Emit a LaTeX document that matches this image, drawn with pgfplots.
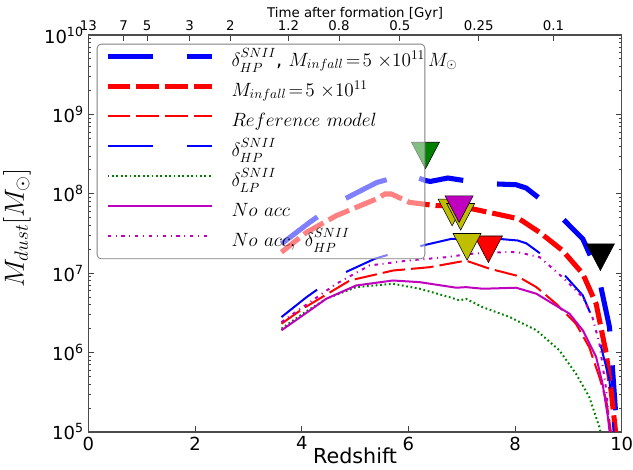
\documentclass[border=0pt]{standalone}
\usepackage{fontspec}
\setmainfont{DejaVu Sans}
\usepackage{pgfplots}
\pgfplotsset{compat=1.18}
\definecolor{mplgreen}{rgb}{0,0.5,0}
\definecolor{mplmag}{rgb}{0.75,0,0.75}
\definecolor{mplolive}{rgb}{0.75,0.75,0}
\pgfdeclareplotmark{tridown}{%
  \pgfpathmoveto{\pgfqpoint{-\pgfplotmarksize}{0.95\pgfplotmarksize}}%
  \pgfpathlineto{\pgfqpoint{\pgfplotmarksize}{0.95\pgfplotmarksize}}%
  \pgfpathlineto{\pgfqpoint{0pt}{-0.95\pgfplotmarksize}}%
  \pgfpathclose
  \pgfusepathqfillstroke}
\tikzset{
  thickblue/.style={blue, line width=3.8pt, dash pattern=on 33.75pt off 25.5pt},
  thinblue/.style={blue, line width=1.5pt, dash pattern=on 33.75pt off 25.5pt},
  thickred/.style={red, line width=3.8pt, dash pattern=on 17pt off 4.5pt},
  thinred/.style={red, line width=1.5pt, dash pattern=on 17pt off 4.5pt},
  greendot/.style={mplgreen, line width=1.5pt, dash pattern=on 1.3pt off 2pt},
  magsolid/.style={mplmag, line width=1.5pt},
  magdashdot/.style={mplmag, line width=1.5pt, dash pattern=on 2.5pt off 3.5pt on 0.8pt off 3.5pt},
}
\pgfplotsset{
  tri/.style={mark=tridown, mark size=10.5pt, mark options={solid, draw=black, line width=0.4pt, fill=#1}, only marks, forget plot}
}
\newcommand{\dsn}[1]{\delta^{\raisebox{1.5pt}{$\scriptstyle SNII$}}_{\raisebox{-1.5pt}{$\scriptstyle #1$}}}
\begin{document}
\begin{tikzpicture}
\begin{axis}[
  at={(0,0)}, anchor=south west,
  scale only axis, width=400pt, height=297.75pt,
  xmin=0, xmax=10, ymode=log, ymin=1e5, ymax=1e10,
  xtick={0,2,4,6,8,10}, xticklabels={0,2,4,6,8,10}, xtick pos=left,
  ytick={1e5,1e6,1e7,1e8,1e9,1e10},
  yticklabels={10\textsuperscript{5},10\textsuperscript{6},10\textsuperscript{7},10\textsuperscript{8},10\textsuperscript{9},10\textsuperscript{10}},
  minor ytick={2e5,3e5,4e5,5e5,6e5,7e5,8e5,9e5,2e6,3e6,4e6,5e6,6e6,7e6,8e6,9e6,2e7,3e7,4e7,5e7,6e7,7e7,8e7,9e7,2e8,3e8,4e8,5e8,6e8,7e8,8e8,9e8,2e9,3e9,4e9,5e9,6e9,7e9,8e9,9e9},
  ytick pos=both, tick align=inside,
  major tick length=4.5pt, minor tick length=2.3pt,
  tick style={black!75, line width=0.6pt},
  axis line style={black!70, line width=0.8pt},
  ticklabel style={font=\fontsize{13.5}{16}\selectfont},
  xlabel={Redshift},
  xlabel style={at={(axis description cs:0.5,0)}, anchor=north, yshift=-12pt, inner sep=0pt, font=\fontsize{15.5}{18}\selectfont},
  legend cell align=left,
  legend image code/.code={\draw[#1] (0pt,4pt) -- (78pt,4pt); \path (91pt,4pt);},
  legend style={
    at={(0.0156,0.978)}, anchor=north west,
    fill=white, fill opacity=0.5, draw opacity=1, text opacity=1,
    draw=black!50, line width=0.6pt, rounded corners=3pt,
    font=\fontsize{14.5}{17}\selectfont,
    inner xsep=6pt, inner ysep=4.5pt,
    row sep=5.5pt,
    nodes={inner sep=0pt, text height=12pt, text depth=5pt, text width=139pt, align=left},
  },
]
\addplot[thickblue] coordinates {(3.62,2.34e7) (4.15,4.38e7) (4.68,7.80e7) (5.41,1.39e8) (5.97,1.77e8) (6.32,1.47e8) (6.41,1.43e8) (6.74,1.58e8) (7.40,1.35e8) (8.02,1.30e8) (8.21,1.18e8) (8.71,6.44e7) (9.27,2.70e7) (9.55,1.03e7) (9.77,2.10e6) (9.86,3.07e5) (9.92,8e4)};
\addlegendentry{\mbox{$\dsn{HP}$, $M_{infall}\!=\!5\;{\times}10^{11}\,M_{\odot}$}}
\addplot[thickred] coordinates {(3.62,1.84e7) (4.09,3.27e7) (4.65,5.31e7) (5.40,8.61e7) (5.56,9.93e7) (5.68,9.93e7) (6.02,7.80e7) (6.52,7.08e7) (6.77,7.08e7) (7.21,6.44e7) (7.65,5.57e7) (8.08,4.82e7) (8.46,3.27e7) (8.89,1.93e7) (9.27,9.82e6) (9.52,4.12e6) (9.71,9.70e5) (9.81,2.93e5) (9.90,8e4)};
\addlegendentry{\mbox{$M_{infall}\!=\!5\;{\times}10^{11}$}}
\addplot[thinred] coordinates {(3.62,2.31e6) (4.02,3.57e6) (4.90,8.09e6) (5.71,1.08e7) (6.40,1.19e7) (7.08,1.44e7) (7.52,1.14e7) (8.02,9.35e6) (8.40,6.67e6) (8.77,4.12e6) (9.14,2.31e6) (9.39,1.17e6) (9.58,4.93e5) (9.71,2.52e5) (9.82,8e4)};
\addlegendentry{\mbox{$Reference\ model$}}
\addplot[thinblue] coordinates {(3.62,2.80e6) (4.09,4.99e6) (4.62,8.91e6) (5.37,1.52e7) (5.99,2.02e7) (6.80,2.70e7) (7.71,2.70e7) (8.05,2.58e7) (8.21,2.38e7) (8.74,1.31e7) (9.27,5.25e6) (9.52,2.10e6) (9.77,4.49e5) (9.86,8e4)};
\addlegendentry{\mbox{$\dsn{HP}$}}
\addplot[greendot] coordinates {(3.62,2.00e6) (4.02,3.09e6) (4.46,4.76e6) (5.02,6.67e6) (5.71,7.36e6) (6.21,6.37e6) (6.77,4.99e6) (6.96,4.54e6) (7.08,4.76e6) (7.39,3.74e6) (7.90,2.80e6) (8.40,1.91e6) (8.83,1.07e6) (9.14,5.45e5) (9.39,2.77e5) (9.58,1.16e5) (9.63,8e4)};
\addlegendentry{\mbox{$\dsn{LP}$}}
\addplot[magsolid] coordinates {(3.62,1.91e6) (4.02,2.94e6) (4.46,4.76e6) (5.02,7.00e6) (5.71,8.09e6) (6.21,7.71e6) (6.90,6.56e6) (7.08,6.67e6) (7.40,6.37e6) (8.02,6.56e6) (8.40,5.51e6) (8.71,4.12e6) (9.02,3.09e6) (9.27,1.91e6) (9.52,8.81e5) (9.64,4.07e5) (9.74,1.55e5) (9.79,8e4)};
\addlegendentry{\mbox{$No\ acc$}}
\addplot[magdashdot] coordinates {(3.62,2.42e6) (4.02,3.74e6) (4.65,7.36e6) (5.27,1.25e7) (6.02,1.45e7) (6.71,1.59e7) (7.15,1.75e7) (7.77,1.84e7) (8.05,1.84e7) (8.46,1.59e7) (8.89,8.91e6) (9.27,4.99e6) (9.45,2.80e6) (9.58,1.31e6) (9.71,3.37e5) (9.77,1.06e5) (9.80,8e4)};
\addlegendentry{\mbox{$No\ acc,\ \dsn{HP}$}}
% markers
\addplot[tri=mplgreen] coordinates {(6.32,3.03e8)};
\addplot[tri=mplolive] coordinates {(6.82,5.81e7)};
\addplot[tri=mplolive] coordinates {(6.98,5.13e7)};
\addplot[tri=mplmag] coordinates {(6.95,6.40e7)};
\addplot[tri=red] coordinates {(7.50,2.00e7)};
\addplot[tri=mplolive] coordinates {(7.10,2.15e7)};
\addplot[tri=black] coordinates {(9.60,1.59e7)};
\end{axis}
\begin{axis}[
  at={(0,0)}, anchor=south west,
  scale only axis, width=400pt, height=297.75pt,
  xmin=0, xmax=10, ymin=0, ymax=1,
  axis x line*=top, axis y line=none,
  tick align=inside, major tick length=4.5pt,
  tick style={black!75, line width=0.6pt},
  axis line style={black!70, line width=0.8pt},
  xtick={0,0.66,1.10,1.90,2.66,3.75,4.70,5.84,7.32,8.72},
  xticklabels={13,7,5,3,2,1.2,0.8,0.5,0.25,0.1},
  ticklabel style={font=\fontsize{10}{12}\selectfont},
  xlabel={Time after formation [Gyr]},
  xlabel style={at={(axis description cs:0.5,1)}, anchor=south, yshift=11pt, inner sep=0pt, font=\fontsize{10}{12}\selectfont},
]
\end{axis}
\node[rotate=90, anchor=center, inner sep=0pt, font=\fontsize{19.5}{23}\selectfont] at (-53.6pt,153pt) {$M_{dust}[M_{\odot}]$};
\pgfresetboundingbox
\path[use as bounding box] (-66.3pt,-28.1pt) rectangle (408.45pt,324pt);
\end{tikzpicture}
\end{document}
